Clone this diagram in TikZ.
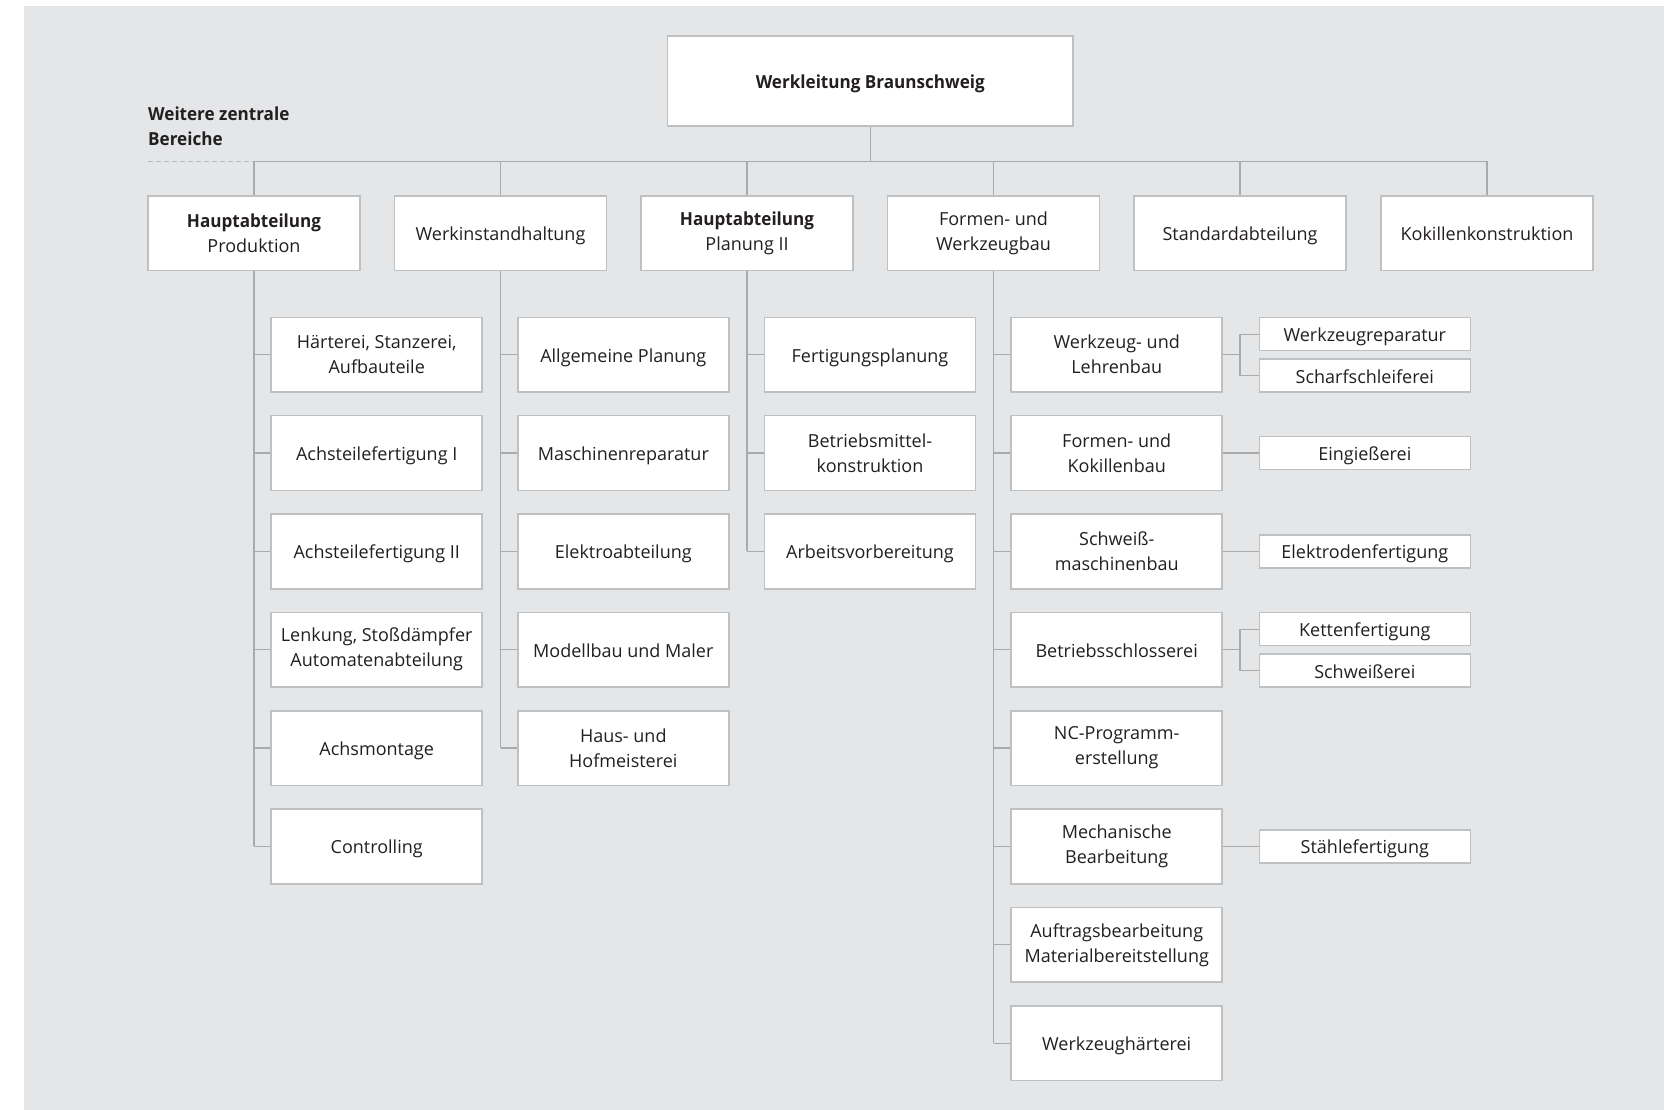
\documentclass[tikz,border=0pt]{standalone}
\usepackage{fontspec}
\setmainfont{Open Sans}[BoldFeatures={FakeStretch=0.95}]
\definecolor{bgc}{HTML}{E5E6E8}
\definecolor{boxc}{HTML}{BFC0C2}
\definecolor{linec}{HTML}{A9AAAC}
\definecolor{txtc}{HTML}{231F20}
\newcommand\orgfs{\fontsize{18}{25}\selectfont}
\tikzset{
  orgbox/.style={draw=boxc, line width=1.5pt, fill=white, minimum width=211pt,
    minimum height=74.7pt, inner sep=0pt, align=center, font=\orgfs, text=txtc},
  subbox/.style={orgbox, minimum height=33pt},
  oneline/.style={text height=17pt, text depth=2pt},
  conn/.style={draw=linec, line width=1.3pt},
}
\begin{document}
\begin{tikzpicture}[x=1pt,y=-1pt]
\useasboundingbox (0,0) rectangle (1664,1110);
\fill[bgc] (24,6) rectangle (1664,1110);
% top
\node[orgbox, oneline, minimum width=405.5pt, minimum height=90pt] (top) at (870.3,81) {\textbf{Werkleitung Braunschweig}};
\node[anchor=north west, inner sep=0pt, align=left, font=\orgfs\bfseries, text=txtc] (wz) at (148,106.5) {Weitere zentrale\\Bereiche};
\coordinate (dashL) at (148,161.5);
\coordinate (busL) at (254,161.5);
\coordinate (busR) at (1487,161.5);
% level 1
\node[orgbox, minimum width=212pt] (A) at (254,233.3) {\textbf{Hauptabteilung}\\Produktion};
\node[orgbox, oneline, minimum width=212pt] (B) at (500.5,233.3) {Werkinstandhaltung};
\node[orgbox, minimum width=212pt] (C) at (747,233.3) {\textbf{Hauptabteilung}\\Planung II};
\node[orgbox, minimum width=212pt] (D) at (993.5,233.3) {Formen- und\\Werkzeugbau};
\node[orgbox, oneline, minimum width=212pt] (S) at (1240,233.3) {Standardabteilung};
\node[orgbox, oneline, minimum width=212pt] (K) at (1487,233.3) {Kokillenkonstruktion};
% column A
\node[orgbox] (A1) at (376.7,354.7) {Härterei, Stanzerei,\\Aufbauteile};
\node[orgbox, oneline] (A2) at (376.7,453.05) {Achsteilefertigung I};
\node[orgbox, oneline] (A3) at (376.7,551.4) {Achsteilefertigung II};
\node[orgbox] (A4) at (376.7,649.75) {Lenkung, Stoßdämpfer\\Automatenabteilung};
\node[orgbox, oneline] (A5) at (376.7,748.1) {Achsmontage};
\node[orgbox, oneline] (A6) at (376.7,846.45) {Controlling};
% column B
\node[orgbox, oneline] (B1) at (623.3,354.7) {Allgemeine Planung};
\node[orgbox, oneline] (B2) at (623.3,453.05) {Maschinenreparatur};
\node[orgbox, oneline] (B3) at (623.3,551.4) {Elektroabteilung};
\node[orgbox, oneline] (B4) at (623.3,649.75) {Modellbau und Maler};
\node[orgbox] (B5) at (623.3,748.1) {Haus- und\\Hofmeisterei};
% column C
\node[orgbox, oneline] (C1) at (870,354.7) {Fertigungsplanung};
\node[orgbox] (C2) at (870,453.05) {Betriebsmittel-\\konstruktion};
\node[orgbox, oneline] (C3) at (870,551.4) {Arbeitsvorbereitung};
% column D
\node[orgbox] (D1) at (1116.7,354.7) {Werkzeug- und\\Lehrenbau};
\node[orgbox] (D2) at (1116.7,453.05) {Formen- und\\Kokillenbau};
\node[orgbox] (D3) at (1116.7,551.4) {Schweiß-\\maschinenbau};
\node[orgbox, oneline] (D4) at (1116.7,649.75) {Betriebsschlosserei};
\node[orgbox] (D5) at (1116.7,748.1) {NC-Programm-\\erstellung};
\node[orgbox] (D6) at (1116.7,846.45) {Mechanische\\Bearbeitung};
\node[orgbox] (D7) at (1116.7,944.8) {Auftragsbearbeitung\\Materialbereitstellung};
\node[orgbox, oneline] (D8) at (1116.7,1043.15) {Werkzeughärterei};
% column E
\node[subbox, oneline] (E1a) at (1364.8,334.2) {Werkzeugreparatur};
\node[subbox, oneline] (E1b) at (1364.8,375.7) {Scharfschleiferei};
\node[subbox, oneline] (E2) at (1364.8,453.05) {Eingießerei};
\node[subbox, oneline] (E3) at (1364.8,551.4) {Elektrodenfertigung};
\node[subbox, oneline] (E4a) at (1364.8,629.2) {Kettenfertigung};
\node[subbox, oneline] (E4b) at (1364.8,670.7) {Schweißerei};
\node[subbox, oneline] (E6) at (1364.8,846.45) {Stählefertigung};
\coordinate (jx) at (1240,0);
% connectors
\draw[conn, dash pattern=on 4.5pt off 3.5pt, draw=linec!80] (dashL) -- (busL);
\draw[conn] (busL) -- (busR);
\draw[conn] (top.south) -- (top.south |- busL);
\foreach \n in {A,B,C,D,S,K} { \draw[conn] (\n.north) -- (\n.north |- busL); }
\draw[conn] (A.south) -- (A.south |- A6.west);
\foreach \n in {A1,A2,A3,A4,A5,A6} { \draw[conn] (A.south |- \n.west) -- (\n.west); }
\draw[conn] (B.south) -- (B.south |- B5.west);
\foreach \n in {B1,B2,B3,B4,B5} { \draw[conn] (B.south |- \n.west) -- (\n.west); }
\draw[conn] (C.south) -- (C.south |- C3.west);
\foreach \n in {C1,C2,C3} { \draw[conn] (C.south |- \n.west) -- (\n.west); }
\draw[conn] (D.south) -- (D.south |- D8.west);
\foreach \n in {D1,D2,D3,D4,D5,D6,D7,D8} { \draw[conn] (D.south |- \n.west) -- (\n.west); }
\draw[conn] (D1.east) -- (D1.east -| jx);
\draw[conn] (E1a.west) -- (E1a.west -| jx) -- (E1b.west -| jx) -- (E1b.west);
\draw[conn] (D2.east) -- (E2.west);
\draw[conn] (D3.east) -- (E3.west);
\draw[conn] (D4.east) -- (D4.east -| jx);
\draw[conn] (E4a.west) -- (E4a.west -| jx) -- (E4b.west -| jx) -- (E4b.west);
\draw[conn] (D6.east) -- (E6.west);
\end{tikzpicture}
\end{document}
